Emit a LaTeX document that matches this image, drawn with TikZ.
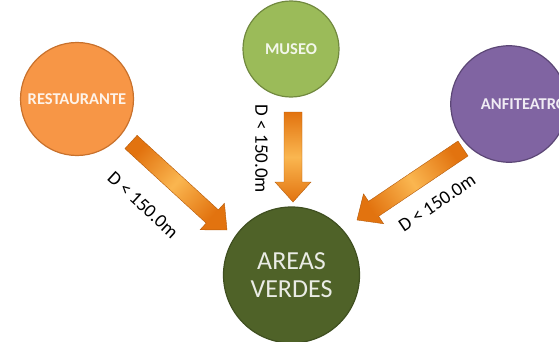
\documentclass[tikz,border=0pt]{standalone}
\usepackage{fontspec}
\setmainfont{Carlito}
\usetikzlibrary{calc}

\definecolor{restfill}{HTML}{F79646}
\definecolor{restline}{HTML}{C8712C}
\definecolor{musfill}{HTML}{9BBB59}
\definecolor{musline}{HTML}{71893F}
\definecolor{anffill}{HTML}{8064A2}
\definecolor{anfline}{HTML}{5C4776}
\definecolor{verfill}{HTML}{4F6228}
\definecolor{verline}{HTML}{3F4F20}
\definecolor{arrlight}{HTML}{FAB650}
\definecolor{arrdark}{HTML}{E2730F}

\tikzset{
  place/.style={circle, line width=1.2pt, inner sep=0pt,
    font=\fontsize{16.5}{18}\selectfont\bfseries},
  dist/.style={font=\fontsize{19}{21}\selectfont, inner sep=0pt},
  arrowbody/.style={draw=arrdark!80!black, line width=0.4pt,
    left color=arrdark, right color=arrdark, middle color=arrlight}
}

% fat arrow from tail #1 to tip #2, shading across the body
\newcommand{\fatarrow}[3]{%
  \coordinate (#1-b) at ($(#2)!20pt!(#1)$);
  \shadedraw[arrowbody, shading angle=#3]
    ($(#1)!9pt!90:(#2)$) -- ($(#1-b)!9pt!90:(#2)$) -- ($(#1-b)!18pt!90:(#2)$)
    -- (#2) -- ($(#1-b)!18pt!-90:(#2)$) -- ($(#1-b)!9pt!-90:(#2)$)
    -- ($(#1)!9pt!-90:(#2)$) -- cycle;}

\begin{document}
\begin{tikzpicture}[x=1pt,y=1pt]
\useasboundingbox (0,0) rectangle (559,341);

% Places
\node[place, fill=restfill, draw=restline, minimum size=113pt,
  text=white!88!restfill] (rest) at (77,242) {RESTAURANTE};
\node[place, fill=musfill, draw=musline, minimum size=96pt,
  text=white!88!musfill] (museo) at (291,292) {MUSEO};
\node[place, fill=anffill, draw=anfline, minimum size=101pt,
  text=white!88!anffill] (anfi) at (509,237) {\hspace*{30pt}ANFITEATRO};
\node[place, fill=verfill, draw=verline, minimum size=136pt,
  text=white!88!verfill, font=\fontsize{26}{28}\selectfont,
  align=center] (verdes) at (291.5,66) {AREAS\\VERDES};

% Arrows
\coordinate (rt) at (131,199);
\coordinate (rh) at (227,111);
\fatarrow{rt}{rh}{47.5}
\coordinate (mt) at (293,229);
\coordinate (mh) at (293,139);
\fatarrow{mt}{mh}{0}
\coordinate (at) at (463,192.5);
\coordinate (ah) at (357,121);
\fatarrow{at}{ah}{124}

% Distances
\node[dist, rotate=-42.5] (drest) at (143,136) {D < 150.0m};
\node[dist, rotate=-90] (dmus) at (261.5,192) {D < 150.0m};
\node[dist, rotate=34] (danf) at (437,138) {D < 150.0m};
\end{tikzpicture}
\end{document}
